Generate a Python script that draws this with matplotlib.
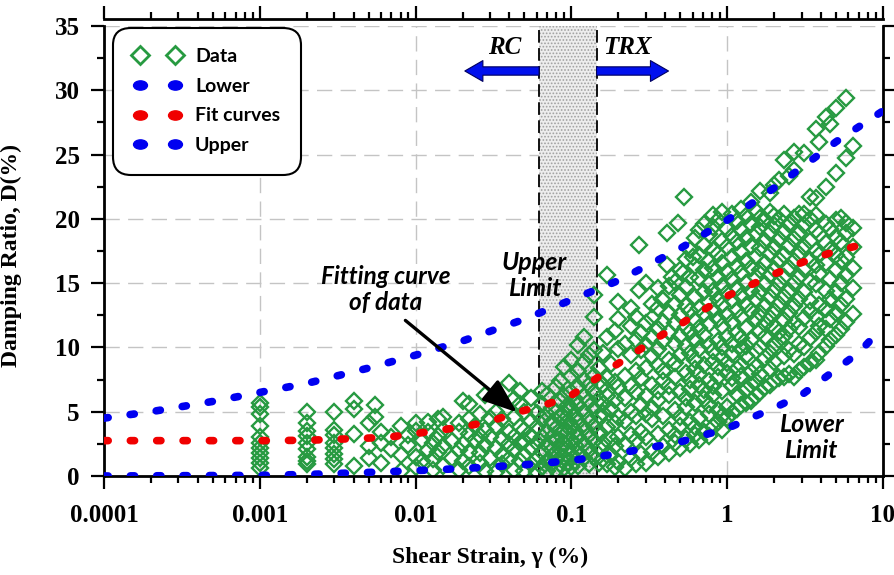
import matplotlib
matplotlib.use("Agg")
import matplotlib.pyplot as plt
from matplotlib.lines import Line2D
from matplotlib.path import Path
from matplotlib.ticker import FixedLocator, NullFormatter, LogLocator

# ---------------------------------------------------------------- curves
upper_strain = [1e-4, 2e-4, 5e-4, 1e-3, 2e-3, 5e-3, 0.01, 0.02, 0.05, 0.1,
                0.2, 0.5, 1, 2, 5, 10]
upper_damp = [4.5, 5.0, 5.8, 6.5, 7.2, 8.4, 9.4, 10.5, 12.2, 13.7,
              15.2, 17.7, 19.9, 22.4, 26.0, 28.4]

lower_strain = [1e-4, 1e-3, 2e-3, 5e-3, 0.01, 0.02, 0.05, 0.1, 0.2, 0.5,
                1, 2, 3, 5, 7, 10]
lower_damp = [0.0, 0.05, 0.12, 0.28, 0.42, 0.58, 0.87, 1.2, 1.75, 2.65,
              3.7, 5.3, 6.3, 8.3, 9.6, 11.6]

fit_strain = [1e-4, 1e-3, 2e-3, 3e-3, 5e-3, 7e-3, 0.01, 0.015, 0.022, 0.032,
              0.045, 0.066, 0.095, 0.13, 0.18, 0.25, 0.35, 0.5, 0.7, 1.0,
              1.5, 2.0, 3.0, 5.0, 8.0]
fit_damp = [2.75, 2.75, 2.78, 2.85, 2.95, 3.05, 3.3, 3.6, 3.9, 4.35,
            4.95, 5.5, 6.1, 7.2, 8.4, 9.5, 10.7, 11.8, 12.9, 14.0,
            15.0, 15.7, 16.6, 17.5, 18.1]

# ---------------------------------------------------------------- measured data
# small strains: one strain value per column, several damping values each
strain_a = [0.001, 0.002, 0.003, 0.004, 0.005, 0.0055, 0.006, 0.007, 0.008,
            0.009, 0.010, 0.011, 0.012, 0.013, 0.014, 0.015, 0.017, 0.019,
            0.020, 0.022, 0.024, 0.026, 0.028, 0.030, 0.033, 0.036, 0.040,
            0.043, 0.047]
damp_a = [
    [0.6, 1.0, 1.4, 1.8, 2.2, 2.6, 3.0, 3.9, 4.8, 5.4, 5.7],
    [0.9, 1.2, 1.5, 2.1, 2.6, 3.1, 3.5, 4.1, 5.0],
    [0.9, 1.3, 1.7, 2.2, 2.6, 3.2, 3.6, 5.0],
    [0.8, 3.3, 5.2, 5.8],
    [1.4, 2.3, 4.1],
    [4.6, 5.5],
    [1.0, 2.6, 3.4],
    [2.1, 3.0],
    [0.4, 1.6, 3.9],
    [2.4, 3.2],
    [0.7, 1.5, 3.5, 4.1],
    [1.2, 2.8],
    [2.0, 3.4, 4.2],
    [0.5, 1.3, 2.6],
    [1.9, 3.1, 4.4],
    [0.8, 2.3, 3.6, 4.6],
    [1.4, 2.7],
    [0.5, 2.0, 3.4, 4.1],
    [1.2, 2.5, 5.8],
    [0.8, 1.9, 3.3, 4.4, 5.6],
    [2.8, 3.9],
    [1.0, 1.8, 3.1, 4.8],
    [0.4, 2.4, 3.6, 6.3],
    [1.4, 3.0, 4.5],
    [0.3, 2.2, 3.9, 5.0],
    [0.9, 1.6, 2.9, 4.4],
    [1.3, 2.5, 3.4, 7.2],
    [0.5, 2.0, 3.0, 4.6, 6.0],
    [1.2, 2.6, 3.8, 5.6, 6.6],
]

# transition zone
strain_b = [0.050, 0.055, 0.060, 0.065, 0.070, 0.075, 0.080, 0.085, 0.090,
            0.095, 0.100, 0.105, 0.110, 0.120, 0.130, 0.140, 0.150]
damp_b = [
    [0.4, 1.6, 2.7, 3.6, 5.0],
    [0.9, 2.2, 3.1, 4.3, 6.1],
    [0.3, 1.3, 2.6, 3.8, 4.9],
    [0.7, 1.9, 3.0, 4.4, 5.6, 6.6],
    [0.4, 1.2, 2.4, 3.4, 4.8, 6.3],
    [1.0, 2.0, 3.0, 4.2, 5.3],
    [0.5, 1.5, 2.7, 3.7, 5.0, 6.9],
    [0.9, 2.1, 3.2, 4.5, 5.8, 7.4],
    [0.6, 1.5, 2.6, 3.6, 4.9, 6.2, 8.5],
    [1.1, 2.2, 3.4, 4.3, 5.5],
    [0.7, 1.7, 2.8, 3.9, 5.2, 6.5, 7.8, 9.0],
    [1.2, 2.4, 3.5, 4.7, 6.0],
    [0.8, 1.8, 3.0, 4.2, 5.5, 6.9, 8.2, 10.2],
    [1.4, 2.5, 3.7, 5.0, 6.2, 7.5, 8.9, 10.8],
    [0.9, 2.0, 3.2, 4.4, 5.8, 7.1, 9.4],
    [1.5, 2.7, 3.9, 5.2, 6.5, 7.8, 9.8, 12.4],
    [1.0, 2.2, 3.4, 4.7, 6.0, 7.3, 8.4],
]

# large strains
strain_c = [0.16, 0.17, 0.18, 0.19, 0.20, 0.22, 0.24, 0.26, 0.28, 0.30,
            0.33, 0.36, 0.39, 0.42, 0.46, 0.50, 0.54, 0.58, 0.62, 0.66,
            0.71, 0.76, 0.81, 0.87, 0.93, 1.00, 1.07, 1.15, 1.23, 1.32,
            1.42, 1.52, 1.63, 1.75, 1.88, 2.00, 2.15, 2.30, 2.50, 2.70,
            2.90, 3.10, 3.40, 3.70, 3.90, 4.30, 4.60, 5.00, 5.40, 5.80,
            6.40]
damp_c = [
    [1.3, 2.6, 4.9, 5.6, 7.1, 9.6],
    [0.9, 3.8, 6.2, 7.6, 10.8],
    [1.6, 2.9, 5.2, 8.7],
    [0.7, 2.3, 4.1, 5.9, 7.3, 11.3],
    [1.1, 3.0, 4.6, 6.9, 9.9, 12.2],
    [0.6, 2.5, 4.3, 6.1, 7.8, 10.3],
    [1.4, 3.2, 5.0, 7.0, 9.4, 11.7],
    [0.9, 2.8, 4.7, 6.5, 8.2, 10.6, 12.4],
    [1.7, 3.4, 5.5, 7.6, 9.8, 11.1],
    [1.0, 3.0, 4.8, 6.2, 8.4, 10.2, 11.9],
    [1.9, 4.4, 5.3, 7.1, 9.3, 10.8, 12.3],
    [1.5, 3.3, 5.9, 6.6, 8.6, 9.9, 11.4, 13.1, 14.6],
    [2.3, 4.7, 7.4, 8.2, 10.5, 12.0, 13.7],
    [1.8, 3.6, 6.3, 7.0, 9.0, 11.2, 12.7, 14.8],
    [2.6, 3.2, 5.1, 7.7, 8.8, 10.3, 11.9, 13.4, 15.1],
    [2.2, 3.9, 4.6, 6.5, 9.4, 10.9, 12.5, 14.1, 16.0],
    [2.9, 5.4, 6.1, 8.0, 10.1, 11.6, 13.2, 14.7, 16.9],
    [2.5, 4.2, 6.8, 7.5, 9.6, 11.2, 12.8, 15.5, 17.6],
    [3.2, 3.8, 5.7, 8.3, 9.0, 10.6, 12.1, 13.9, 16.3, 18.5],
    [2.8, 4.5, 7.1, 7.9, 9.9, 11.5, 13.1, 15.4, 17.2, 19.1],
    [3.4, 6.0, 6.7, 8.6, 11.0, 12.6, 14.3, 16.0, 18.0, 19.6],
    [3.1, 4.8, 5.5, 7.4, 10.2, 11.8, 13.5, 14.9, 16.7, 18.8],
    [3.8, 6.3, 7.0, 8.9, 9.7, 12.9, 14.4, 16.2, 17.6, 19.4, 20.3],
    [4.2, 5.1, 7.7, 8.5, 10.5, 12.2, 13.8, 15.5, 17.3, 19.9],
    [3.6, 4.7, 6.6, 9.2, 10.0, 11.7, 13.3, 14.8, 16.6, 18.3, 20.5],
    [4.5, 5.4, 8.0, 8.8, 10.8, 12.5, 14.2, 15.9, 17.8, 19.2],
    [4.9, 7.0, 7.6, 9.5, 10.3, 12.0, 13.7, 15.3, 17.0, 18.7, 20.4],
    [5.2, 6.4, 8.3, 11.1, 12.9, 14.6, 16.3, 18.2, 19.8],
    [5.5, 7.8, 8.6, 9.9, 10.7, 12.4, 14.0, 15.8, 17.4, 19.1, 20.8],
    [5.7, 6.7, 9.3, 10.1, 11.5, 13.3, 15.0, 16.7, 18.5, 20.2],
    [5.8, 7.1, 8.1, 10.6, 12.8, 14.4, 16.2, 17.9, 19.6, 21.3],
    [6.2, 7.4, 8.5, 9.7, 12.2, 13.8, 15.5, 17.1, 18.9, 20.6],
    [6.5, 7.9, 10.0, 11.3, 12.7, 14.3, 16.0, 17.7, 19.4, 20.1, 22.2],
    [6.9, 9.2, 10.8, 11.8, 13.2, 14.9, 16.6, 18.3, 19.9],
    [7.1, 8.3, 9.6, 12.3, 13.9, 15.6, 17.3, 18.9, 20.5, 22.0],
    [7.4, 8.9, 10.1, 11.6, 12.8, 14.5, 16.1, 17.8, 19.5, 20.2, 22.6],
    [7.6, 10.6, 11.2, 13.4, 15.0, 16.8, 18.4, 20.0, 23.0],
    [7.7, 9.3, 10.9, 12.1, 13.9, 15.5, 17.2, 19.0, 20.4, 24.6],
    [7.9, 9.8, 11.4, 12.7, 14.4, 16.2, 17.9, 19.6, 23.3],
    [7.7, 9.5, 11.9, 13.2, 15.0, 16.7, 18.4, 20.1, 23.8, 25.2],
    [8.2, 10.3, 11.6, 13.8, 15.5, 17.3, 18.9, 20.4],
    [8.5, 10.0, 12.3, 14.3, 16.1, 17.8, 19.5, 20.4, 25.1],
    [8.8, 10.7, 12.8, 13.6, 15.1, 16.8, 18.3, 20.0, 21.7],
    [9.0, 11.2, 12.4, 14.9, 16.4, 17.5, 19.1, 20.3, 21.6, 27.0],
    [9.6, 11.7, 13.3, 15.7, 17.2, 18.8, 26.0],
    [10.1, 11.4, 13.0, 14.4, 16.6, 18.1, 19.6, 22.5, 27.9],
    [10.6, 12.2, 13.8, 15.3, 17.6, 19.2, 27.4],
    [11.0, 12.7, 14.3, 16.0, 17.2, 18.6, 19.9, 23.6, 28.6],
    [11.4, 13.3, 15.0, 16.7, 18.2, 20.1],
    [12.0, 13.8, 15.6, 17.0, 18.9, 19.7, 24.7, 29.4],
    [12.6, 14.6, 16.2, 17.8, 19.3, 25.7],
]

# isolated high-damping readings
strain_d = [0.14, 0.17, 0.20, 0.24, 0.27, 0.27, 0.30, 0.33, 0.38, 0.41,
            0.41, 0.44, 0.48, 0.52, 0.53, 0.60]
damp_d = [14.1, 15.6, 13.5, 13.1, 18.0, 14.5, 15.0, 13.4, 13.8, 16.4,
          18.9, 15.5, 19.7, 15.8, 21.7, 17.0]

x_ticks = [1e-4, 1e-3, 1e-2, 1e-1, 1, 10]
x_tick_labels = ["0.0001", "0.001", "0.01", "0.1", "1", "10"]
y_ticks = [0, 5, 10, 15, 20, 25, 30, 35]

# RC / TRX boundary band
band_lo, band_hi = 0.062, 0.145

GREEN = "#279a41"
BLUE = "#0000f0"
RED = "#f00000"
SERIF = "Liberation Serif"


def flatten(xs, yss):
    fx, fy = [], []
    for x, ys in zip(xs, yss):
        fx.extend([x] * len(ys))
        fy.extend(ys)
    return fx, fy


fig = plt.figure(figsize=(8.94, 5.75), dpi=100)
ax = fig.add_axes([104 / 894, 1 - 476 / 575, 779 / 894, 450 / 575])
ax.set_xscale("log")
ax.set_xlim(1e-4, 10)
ax.set_ylim(0, 35)

# grid
ax.grid(True, which="major", ls=(0, (11, 6)), color="#c4c4c4", lw=1.0, zorder=0)
ax.set_axisbelow(True)

# shaded band between the two test methods
plt.rcParams["hatch.linewidth"] = 0.8
ax.axvspan(band_lo, band_hi, facecolor="#ededed", edgecolor="#a0a0a0",
           hatch=".....", lw=0, zorder=1)
for xb in (band_lo, band_hi):
    ax.axvline(xb, color="black", lw=1.3, ls=(0, (7, 3)), zorder=1.5)

# data points
dot_kw = dict(ls="none", marker="D", mfc="none", mec=GREEN, ms=7.9, mew=1.7,
              zorder=2)
for xs, yss in ((strain_a, damp_a), (strain_b, damp_b), (strain_c, damp_c)):
    fx, fy = flatten(xs, yss)
    ax.plot(fx, fy, **dot_kw)
ax.plot(strain_d, damp_d, **dot_kw)

# curves
curve_kw = dict(lw=5.5, ls=(0, (0.55, 2.9)), dash_capstyle="round", zorder=3)
ax.plot(upper_strain, upper_damp, color=BLUE, **curve_kw)
ax.plot(lower_strain, lower_damp, color=BLUE, **curve_kw)
ax.plot(fit_strain, fit_damp, color=RED, **curve_kw)

# axes styling
for side in ("left", "right", "bottom", "top"):
    ax.spines[side].set_linewidth(2.0)
ax.spines["top"].set_position(("outward", 5))

ax.xaxis.set_major_locator(FixedLocator(x_ticks))
ax.set_xticklabels(x_tick_labels)
ax.xaxis.set_minor_locator(LogLocator(base=10, subs=range(2, 10), numticks=20))
ax.xaxis.set_minor_formatter(NullFormatter())
ax.set_yticks(y_ticks)
ax.yaxis.set_minor_locator(FixedLocator([2.5 + 5 * i for i in range(7)]))

ax.tick_params(axis="both", which="major", direction="out", length=9.5,
               width=1.6, top=True, right=True, labeltop=False,
               labelright=False)
ax.tick_params(axis="both", which="minor", direction="out", length=5,
               width=1.6, top=True, right=True)
ax.tick_params(axis="x", which="major", pad=11)
ax.tick_params(axis="y", which="major", pad=8)
for lab in ax.get_xticklabels() + ax.get_yticklabels():
    lab.set_fontfamily(SERIF)
    lab.set_fontweight("bold")
    lab.set_fontsize(18)

ax.set_xlabel("Shear Strain, \u03b3 (%)", fontfamily=SERIF, fontweight="bold",
              fontsize=17)
ax.set_ylabel("Damping Ratio, D(%)", fontfamily=SERIF, fontweight="bold",
              fontsize=17)
ax.xaxis.set_label_coords(0.496, -0.158)
ax.yaxis.set_label_coords(-0.105, 0.49)

# RC / TRX arrows and labels
arrow_kw = dict(arrowstyle="simple,head_length=0.65,head_width=0.75,tail_width=0.3",
                fc="#0010ee", ec="#000060", lw=0.8, shrinkA=0, shrinkB=0,
                mutation_scale=20)
ax.annotate("", xy=(0.0207, 31.5), xytext=(band_lo, 31.5), arrowprops=arrow_kw,
            zorder=4)
ax.annotate("", xy=(0.42, 31.5), xytext=(band_hi, 31.5), arrowprops=arrow_kw,
            zorder=4)
ax.text(0.0375, 33.3, "RC", fontfamily=SERIF, fontweight="bold",
        fontstyle="italic", fontsize=18, ha="center", va="center")
ax.text(0.23, 33.3, "TRX", fontfamily=SERIF, fontweight="bold",
        fontstyle="italic", fontsize=18, ha="center", va="center")

# annotations
note_kw = dict(fontfamily="Lato", fontweight="bold", fontstyle="italic",
               ha="center", va="center", linespacing=1.2, color="black",
               zorder=5)
ax.text(0.058, 15.6, "Upper\nLimit", fontsize=18, **note_kw)
ax.text(3.45, 3.0, "Lower\nLimit", fontsize=18, **note_kw)
ax.text(0.0064, 14.5, "Fitting curve\nof data", fontsize=17.5, **note_kw)
ax.annotate("", xy=(0.0448, 4.95), xytext=(0.0086, 12.1),
            arrowprops=dict(arrowstyle="-|>,head_length=0.85,head_width=0.32",
                            color="black", lw=2.4, shrinkA=0, shrinkB=0,
                            mutation_scale=25),
            zorder=5)

# legend
circle = Path.unit_circle()
ellipse = Path(circle.vertices * [1.5, 1.0], circle.codes)
handles = [
    Line2D([], [], ls="none", marker="D", mfc="none", mec=GREEN, ms=9.5, mew=2.0),
    Line2D([], [], ls="none", marker=ellipse, color=BLUE, ms=10),
    Line2D([], [], ls="none", marker=ellipse, color=RED, ms=10),
    Line2D([], [], ls="none", marker=ellipse, color=BLUE, ms=10),
]
labels = ["Data", "Lower", "Fit curves", "Upper"]
leg = ax.legend(handles, labels, loc="upper left", bbox_to_anchor=(0.012, 0.996),
                borderaxespad=0, numpoints=2, handlelength=2.4,
                handletextpad=0.75, labelspacing=0.65, borderpad=1.05,
                fancybox=True, framealpha=1, edgecolor="black",
                prop=dict(family="Lato", weight="bold", size=14))
leg.get_frame().set_linewidth(1.5)
leg.get_frame().set_boxstyle("round,pad=0.0,rounding_size=0.9")
leg.set_zorder(6)

fig.savefig("out.png", dpi=100)
